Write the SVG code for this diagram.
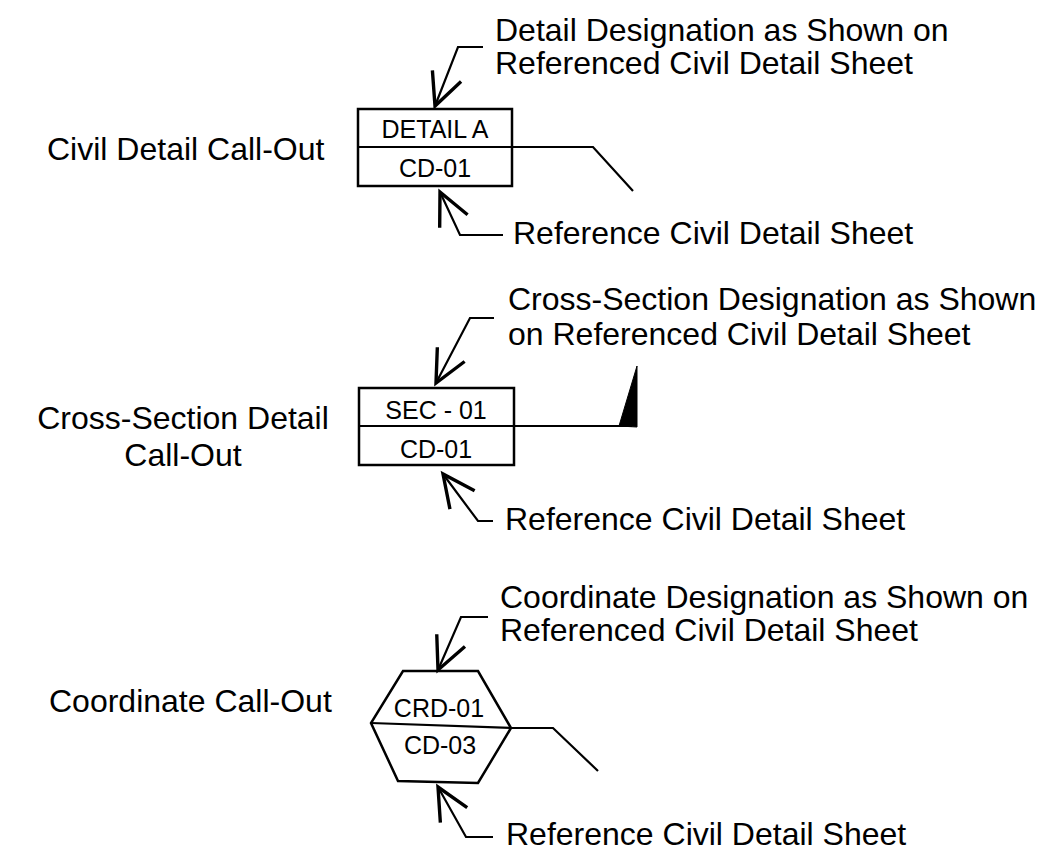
<svg xmlns="http://www.w3.org/2000/svg" width="1039" height="853" viewBox="0 0 1039 853">
<style>
text{font-family:"Liberation Sans",Arial,sans-serif;fill:#000}
.lbl{font-size:32px}
.in{font-size:25px;text-anchor:middle}
.mid{text-anchor:middle}
.shape{fill:#fff;stroke:#000;stroke-width:2.5}
.ln{fill:none;stroke:#000;stroke-width:2.2}
.ar{fill:none;stroke:#000;stroke-width:2.2;marker-end:url(#open)}
</style>
<defs>
<marker id="open" markerUnits="userSpaceOnUse" orient="auto" refX="0" refY="0" markerWidth="40" markerHeight="40" viewBox="-24 -12 26 24" overflow="visible">
<path d="M-21,-10 L0,0 L-21,10" fill="none" stroke="#000" stroke-width="2.2"/>
</marker>
</defs>
<rect width="1039" height="853" fill="#fff"/>

<g id="civil-detail">
<text class="lbl" x="47" y="160">Civil Detail Call-Out</text>
<rect class="shape" x="358" y="109" width="154" height="77"/>
<line class="ln" x1="358" y1="147" x2="512" y2="147"/>
<text class="in" x="435" y="138">DETAIL A</text>
<text class="in" x="435" y="177">CD-01</text>
<text class="lbl" x="495" y="41">Detail Designation as Shown on</text>
<text class="lbl" x="495" y="74">Referenced Civil Detail Sheet</text>
<text class="lbl" x="513" y="244">Reference Civil Detail Sheet</text>
</g>

<g id="cross-section">
<text class="lbl mid" x="183" y="429">Cross-Section Detail</text>
<text class="lbl mid" x="183" y="466">Call-Out</text>
<rect class="shape" x="359" y="388" width="155" height="77"/>
<line class="ln" x1="359" y1="426" x2="514" y2="426"/>
<text class="in" x="436" y="419">SEC - 01</text>
<text class="in" x="436" y="458">CD-01</text>
<polygon points="619,426 637,366 637,427" fill="#000" stroke="#000" stroke-width="1"/>
<text class="lbl" x="508" y="310">Cross-Section Designation as Shown</text>
<text class="lbl" x="508" y="345">on Referenced Civil Detail Sheet</text>
<text class="lbl" x="505" y="530">Reference Civil Detail Sheet</text>
</g>

<g id="coordinate">
<text class="lbl" x="49" y="712">Coordinate Call-Out</text>
<polygon class="shape" points="403,671 478,671 511,728 478,783 398,781 371,723"/>
<line class="ln" x1="371" y1="723" x2="511" y2="728"/>
<text class="in" x="439" y="717">CRD-01</text>
<text class="in" x="440" y="754">CD-03</text>
<text class="lbl" x="500" y="608">Coordinate Designation as Shown on</text>
<text class="lbl" x="500" y="641">Referenced Civil Detail Sheet</text>
<text class="lbl" x="506" y="845">Reference Civil Detail Sheet</text>
</g>

<g id="connectors">
<path class="ln" d="M512,147 H593 L633,191"/>
<path class="ar" d="M483,47 H458 L435,106"/>
<path class="ar" d="M503,235 H460 L440,192"/>
<path class="ln" d="M514,426 H632"/>
<path class="ar" d="M494,318 H470 L436,383"/>
<path class="ar" d="M493,521 H478 L443,474"/>
<path class="ln" d="M511,728 H553 L598,771"/>
<path class="ar" d="M488,617 H461 L438,670"/>
<path class="ar" d="M493,837 H466 L438,787"/>
</g>
</svg>
